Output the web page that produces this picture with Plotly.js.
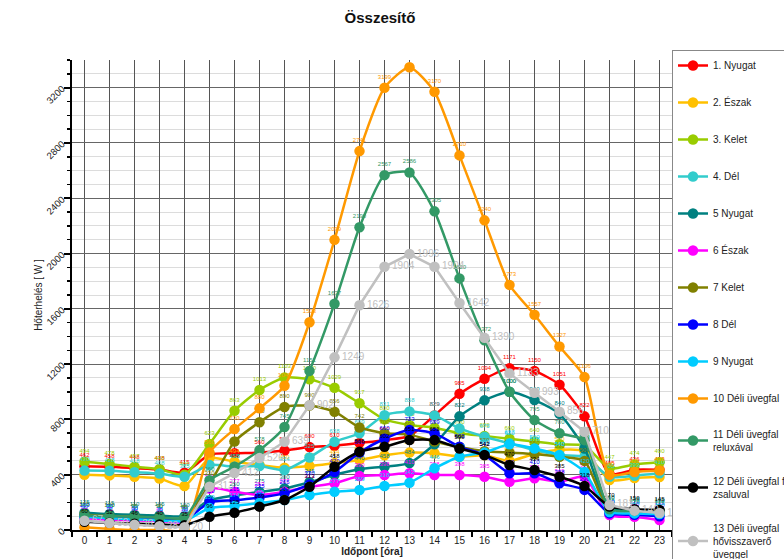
<!DOCTYPE html>
<html>
<head>
<meta charset="utf-8">
<script src="https://cdn.plot.ly/plotly-3.0.1.min.js"></script>
<style>html,body{margin:0;padding:0;background:#fff;}#chart{width:784px;height:559px;}</style>
</head>
<body>
<div id="chart"></div>
<script>
var hours = [0,1,2,3,4,5,6,7,8,9,10,11,12,13,14,15,16,17,18,19,20,21,22,23];
var hourLabels = ["0","1","2","3","4","5","6","7","8","9","10","11","12","13","14","15","16","17","18","19","20","21","22","23"];

var names = ["1. Nyugat","2. Észak","3. Kelet","4. Dél","5 Nyugat","6 Észak","7 Kelet","8 Dél","9 Nyugat","10 Déli üvegfal","11 Déli üvegfal<br>reluxával","12 Déli üvegfal fa<br>zsaluval","13 Déli üvegfal<br>hővisszaverő<br>üveggel"];

var s1 = [462,458,448,438,415,545,555,560,575,600,610,630,650,680,829,985,1094,1171,1150,1051,822,405,436,436];
var s2 = [400,395,385,372,318,520,494,470,450,463,484,506,540,560,555,530,540,500,550,580,570,361,376,383];
var s3 = [494,478,457,440,400,623,863,1013,1103,1090,1029,917,800,760,740,700,680,660,640,620,610,447,474,490];
var s4 = [430,428,418,408,385,470,458,463,434,525,638,699,831,858,829,735,675,627,578,542,530,385,393,410];
var s5 = [125,115,110,105,100,215,250,275,300,345,400,440,458,484,620,822,938,1000,940,840,590,160,145,140];
var s6 = [85,75,70,65,60,300,277,253,277,313,338,390,398,410,398,398,385,349,374,349,385,108,96,72];
var s7 = [110,100,95,90,85,330,640,780,890,900,856,742,700,690,640,600,570,560,550,530,500,130,120,115];
var s8 = [100,90,80,75,70,200,215,235,265,330,420,560,660,723,699,602,542,410,410,338,290,120,110,100];
var s9 = [96,85,78,70,65,159,174,195,217,253,277,289,318,342,446,530,560,620,590,540,420,130,120,115];
var s10 = [20,8,0,0,0,560,730,880,1043,1503,2099,2741,3199,3348,3170,2710,2240,1773,1557,1327,1106,400,420,430];
var s11 = [105,100,95,90,88,360,458,578,745,1151,1637,2190,2567,2586,2305,1820,1372,1000,795,700,650,150,140,130];
var s12 = [60,52,46,40,35,96,125,169,217,313,458,566,602,651,651,590,542,470,434,385,318,170,150,145];
var s13 = [67,50,38,28,20,313,412,520,639,902,1249,1626,1904,1996,1904,1642,1390,1133,993,856,710,181,140,123];

var series = [s1,s2,s3,s4,s5,s6,s7,s8,s9,s10,s11,s12,s13];
var colors = ["#ff0000","#ffc000","#99cc00","#33cccc","#008080","#ff00ff","#808000","#0000ff","#00ccff","#ff9900","#339966","#000000","#c0c0c0"];

var traces = series.map(function(vals, i){
  var isGray = (i === 12);
  return {
    x: hours,
    y: vals,
    name: names[i],
    legendgroup: "g" + i,
    type: "scatter",
    mode: "lines+markers+text",
    text: vals.map(function(v){ return String(v); }),
    textposition: isGray ? "middle right" : "top center",
    textfont: {family: "Liberation Sans, Arial, sans-serif", size: isGray ? 10 : 6, color: colors[i]},
    line: {color: colors[i], width: 2.5, shape: isGray ? "linear" : "spline", smoothing: 0.6},
    marker: {color: colors[i], size: 10.5},
    cliponaxis: true
  };
});

var layout = {
  width: 784,
  height: 559,
  margin: {l: 72, r: 112, t: 60, b: 29},
  paper_bgcolor: "#ffffff",
  plot_bgcolor: "#ffffff",
  font: {family: "Liberation Sans, Arial, sans-serif", size: 10, color: "#222"},
  title: {text: "<b>Összesítő</b>", x: 380/784, xref: "container", xanchor: "center", y: 1 - 18/559, yref: "container", yanchor: "middle", font: {size: 15, color: "#111"}},
  showlegend: true,
  legend: {
    xref: "container", yref: "container",
    x: 672/784, xanchor: "left", y: 1 - 50/559, yanchor: "top",
    maxheight: 1,
    bordercolor: "#888", borderwidth: 1, bgcolor: "#ffffff",
    font: {size: 10, color: "#222"},
    traceorder: "grouped", tracegroupgap: 18,
    itemwidth: 30
  },
  xaxis: {
    range: [-0.5, 23.5],
    tickvals: hours,
    ticktext: hourLabels,
    ticks: "",
    showgrid: true, gridcolor: "#555555", gridwidth: 1,
    showline: true, linecolor: "#000", linewidth: 2,
    zeroline: false,
    tickfont: {size: 10, color: "#222"},
    minor: {tick0: 0.5, dtick: 1, ticks: "outside", ticklen: 5, tickwidth: 2, tickcolor: "#000", showgrid: false},
    title: {text: "<b>Időpont [óra]</b>", font: {size: 10, color: "#222"}, standoff: 2}
  },
  yaxis: {
    range: [0, 3400],
    dtick: 400,
    tick0: 0,
    tickangle: -45,
    ticks: "outside", ticklen: 6, tickwidth: 2, tickcolor: "#000",
    showgrid: true, gridcolor: "#666666", gridwidth: 1,
    showline: true, linecolor: "#000", linewidth: 2,
    zeroline: false,
    tickfont: {size: 9.5, color: "#222"},
    minor: {dtick: 100, ticks: "outside", ticklen: 3, tickwidth: 1.5, tickcolor: "#000", showgrid: true, gridcolor: "#dcdcdc", gridwidth: 1},
    title: {text: "Hőterhelés [ W ]", font: {size: 10, color: "#222"}, standoff: 0}
  }
};

Plotly.newPlot("chart", traces, layout, {displayModeBar: false, staticPlot: true});
</script>
</body>
</html>
